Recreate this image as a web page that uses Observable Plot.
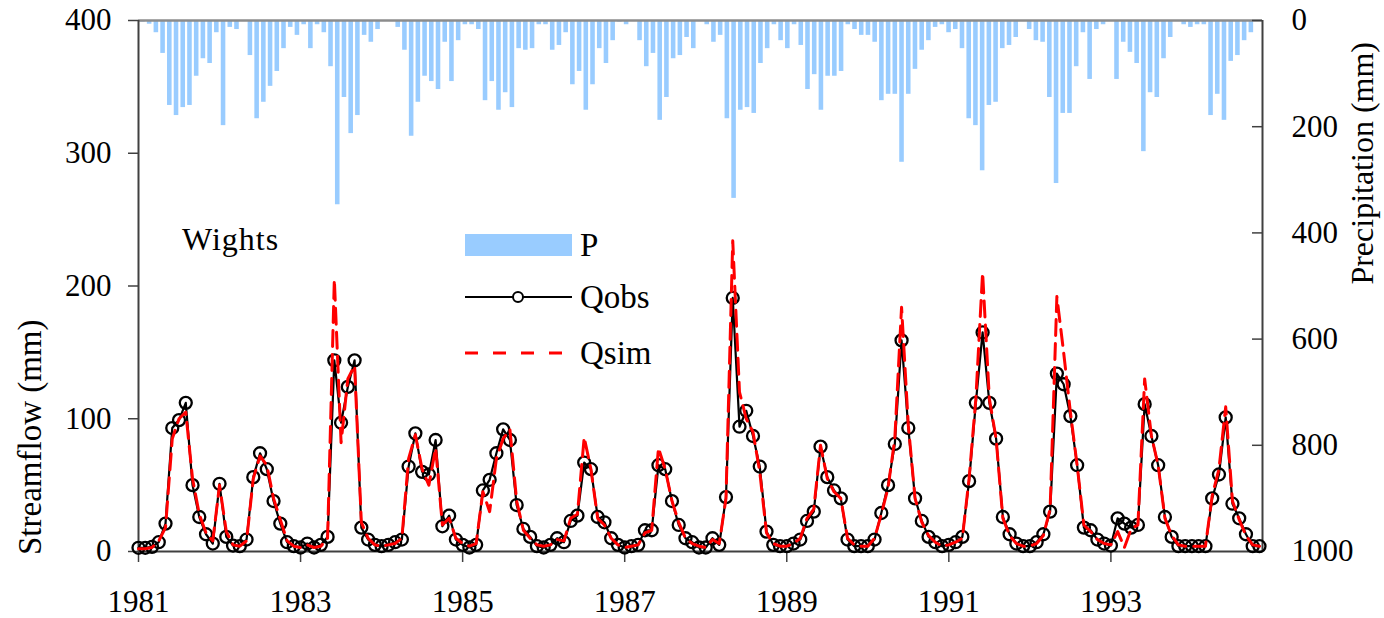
<!DOCTYPE html>
<html><head><meta charset="utf-8">
<script src="https://cdn.jsdelivr.net/npm/d3@7"></script>
<script src="https://cdn.jsdelivr.net/npm/@observablehq/plot@0.6"></script>
<style>
html,body{margin:0;padding:0;background:#fff;}
#chart{position:relative;width:1384px;height:618px;font-family:"Liberation Serif","Times New Roman",serif;}
#chart svg{position:absolute;left:0;top:0;}
</style></head><body><div id="chart"></div>
<script>
// ---- data (monthly, Jan 1981 .. Nov 1994) ----
const startYear = 1981;
const qobs = [
  2.8, 2.8, 3.5, 7, 21, 93, 99, 112, 50, 26, 13, 6,
  51, 11, 4.5, 4, 9, 56, 74, 62, 38, 21, 7, 4,
  3, 6, 3, 5, 11, 144, 97, 124, 144, 18, 9, 5,
  4, 5, 7, 9, 64, 89, 60, 58, 84, 19, 27, 9,
  5, 3, 5, 46, 54, 74, 92, 84, 35, 17, 11, 4,
  3, 5, 10, 7, 23, 27, 67, 62, 26, 22, 10, 5,
  3, 4, 5, 16, 16, 65, 62, 38, 20, 10, 7, 3,
  3, 10, 5, 41, 191, 94, 106, 87, 64, 15, 5, 4,
  4, 6, 9, 23, 30, 79, 56, 46, 40, 9, 4, 4,
  4, 9, 29, 50, 81, 159, 93, 40, 23, 11, 7, 4,
  5, 7, 11, 53, 112, 165, 112, 85, 26, 13, 6, 4,
  4, 7, 13, 30, 134, 126, 102, 65, 18, 16, 9, 6,
  4.5, 25, 21, 18, 20, 111, 87, 65, 26, 11, 4, 4,
  4, 4, 4, 40, 58, 101, 36, 25, 13, 4, 4
];
const qsim = [
  2, 2, 3, 8, 18, 85, 100, 105, 55, 28, 14, 8,
  50, 15, 5, 4, 8, 55, 72, 65, 40, 24, 8, 4,
  3, 5, 3, 4, 10, 205, 82, 130, 140, 22, 10, 5,
  4, 5, 6, 10, 70, 88, 62, 50, 78, 20, 25, 10,
  6, 4, 6, 45, 30, 70, 85, 92, 38, 16, 10, 5,
  4, 5, 9, 8, 25, 28, 86, 62, 25, 20, 10, 5,
  3, 4, 5, 14, 16, 78, 62, 38, 22, 10, 6, 4,
  3, 9, 6, 40, 234, 120, 100, 90, 60, 14, 6, 4,
  4, 6, 10, 25, 32, 80, 55, 45, 40, 10, 5, 4,
  4, 10, 28, 48, 85, 184, 95, 40, 22, 12, 7, 4,
  5, 7, 10, 55, 115, 210, 115, 85, 25, 12, 6, 4,
  4, 6, 12, 32, 192, 150, 105, 65, 20, 15, 9, 6,
  5, 15, 3, 17, 20, 130, 87, 65, 25, 12, 5, 4,
  4, 4, 4, 42, 62, 109, 38, 24, 12, 5, 4
];
const precip = [
  3,
  7, 23, 62, 160, 179, 164, 160, 105, 72, 81, 23, 198, 13, 17, 2, 66, 185, 154, 124, 96,
  53, 13, 28, 8, 53, 8, 23, 87, 347, 145, 213, 179, 28, 41, 17, 2, 2, 13, 56, 218,
  154, 105, 115, 130, 41, 115,
  38, 8, 8, 17, 151, 115, 169, 136, 164, 53, 56, 53, 8, 8, 56, 47, 23, 121, 96, 169,
  121, 53, 81, 38, 3, 8, 2, 38, 87, 62, 188, 145, 72, 66, 32, 53, 2, 8, 41, 28,
  185, 335, 169, 164, 175, 81,
  53, 8, 38, 53, 8, 47, 130, 102, 169, 105, 105, 96, 8, 17, 28, 28, 41, 151, 139, 139,
  267, 139, 92, 56, 38, 13, 8, 23, 17, 53, 185, 198, 283, 160, 154, 53, 47, 32, 2, 17,
  38, 41, 145, 307, 175, 175,
  87, 23, 111, 17, 8, 2, 111, 41, 60, 81, 247, 136, 145, 72, 32, 2, 8, 13, 8, 8,
  179, 139, 188, 77, 66, 38, 23,
  0
];
const yearTicks = [1981, 1983, 1985, 1987, 1989, 1991, 1993];
const flowTicks = [0, 100, 200, 300, 400];
const precipTicks = [0, 200, 400, 600, 800, 1000];
const legendLabels = ["P", "Qobs", "Qsim"];
const stationName = "Wights";
const leftTitle = "Streamflow (mm)";
const rightTitle = "Precipitation (mm)";

// ---- layout ----
const W = 1384, H = 618, mL = 138, mR = 122, mT = 20, mB = 67;
const xDomain = [startYear, startYear + 166.45 / 12];
const font = "Liberation Serif";
const axisColor = "#404040";

const rows = qobs.map((v, i) => ({t: startYear + i / 12, obs: v, sim: qsim[i]}));
const precipRows = precip.map((p, m) => ({m, p}));

const baseStyle = {background: "transparent", fontFamily: font, fontSize: "31px", color: "#000", overflow: "visible"};

const pPlot = Plot.plot({
  width: W, height: H, marginLeft: mL, marginRight: mR, marginTop: mT, marginBottom: mB,
  style: baseStyle,
  x: {type: "band", domain: d3.range(precip.length), padding: 0.32, axis: null},
  y: {domain: [0, 1000], reverse: true, axis: null},
  marks: [
    Plot.barY(precipRows, {x: "m", y1: 0, y2: "p", fill: "#99CCFF"}),
    Plot.ruleY([0], {stroke: "#8c8c8c", strokeWidth: 2.5}),
    Plot.ruleY(precipTicks, {insetLeft: W - mL - mR - 10, stroke: axisColor, strokeWidth: 1.5}),
    Plot.axisY(precipTicks, {anchor: "right", tickSize: 0, tickPadding: 29, tickFormat: d => String(d), label: null})
  ]
});

const qPlot = Plot.plot({
  width: W, height: H, marginLeft: mL, marginRight: mR, marginTop: mT, marginBottom: mB,
  style: baseStyle,
  x: {domain: xDomain, axis: null},
  y: {domain: [0, 400], axis: null},
  marks: [
    Plot.ruleX([xDomain[0]], {stroke: axisColor, strokeWidth: 2}),
    Plot.ruleX([xDomain[1]], {stroke: axisColor, strokeWidth: 2}),
    Plot.ruleY([0], {stroke: axisColor, strokeWidth: 2}),
    Plot.axisX(yearTicks, {anchor: "bottom", tickSize: 11, tickPadding: 27, tickFormat: d => String(d), label: null, stroke: axisColor, strokeWidth: 1.5}),
    Plot.axisY(flowTicks, {anchor: "left", tickSize: 10, tickPadding: 17, tickFormat: d => String(d), label: null, stroke: axisColor, strokeWidth: 1.5}),
    Plot.line(rows, {x: "t", y: "obs", stroke: "#000", strokeWidth: 2.2}),
    Plot.dot(rows, {x: "t", y: "obs", r: 6, stroke: "#000", strokeWidth: 2.3, fill: "none"}),
    Plot.line(rows, {x: "t", y: "sim", stroke: "#ff0000", strokeWidth: 3, strokeDasharray: "16,8"})
  ]
});

const chart = document.getElementById("chart");
chart.appendChild(pPlot);
chart.appendChild(qPlot);

// ---- overlay: axis titles, station name, legend ----
const ov = d3.select(chart).append("svg").attr("width", W).attr("height", H)
  .style("font-family", font).style("pointer-events", "none");
ov.append("text").attr("transform", "translate(41,555) rotate(-90)")
  .attr("font-size", 33).attr("text-anchor", "start").text(leftTitle);
ov.append("text").attr("transform", "translate(1373,42) rotate(-90)")
  .attr("font-size", 32).attr("text-anchor", "end").text(rightTitle);
ov.append("text").attr("x", 182).attr("y", 250).attr("font-size", 32)
  .attr("letter-spacing", 1).text(stationName);

const lg = ov.append("g").attr("transform", "translate(465,0)");
const rowsY = [245, 297, 353];
// P
lg.append("rect").attr("x", 0).attr("y", rowsY[0] - 11).attr("width", 107).attr("height", 22).attr("fill", "#99CCFF");
// Qobs
lg.append("line").attr("x1", 0).attr("x2", 107).attr("y1", rowsY[1]).attr("y2", rowsY[1]).attr("stroke", "#000").attr("stroke-width", 2);
lg.append("circle").attr("cx", 53).attr("cy", rowsY[1]).attr("r", 5).attr("fill", "#fff").attr("stroke", "#000").attr("stroke-width", 2);
// Qsim
lg.append("line").attr("x1", 0).attr("x2", 107).attr("y1", rowsY[2]).attr("y2", rowsY[2]).attr("stroke", "#ff0000").attr("stroke-width", 3).attr("stroke-dasharray", "13,15");
legendLabels.forEach((s, i) => {
  lg.append("text").attr("x", 115).attr("y", rowsY[i] + 11).attr("font-size", 33).text(s);
});
</script>
</body></html>
